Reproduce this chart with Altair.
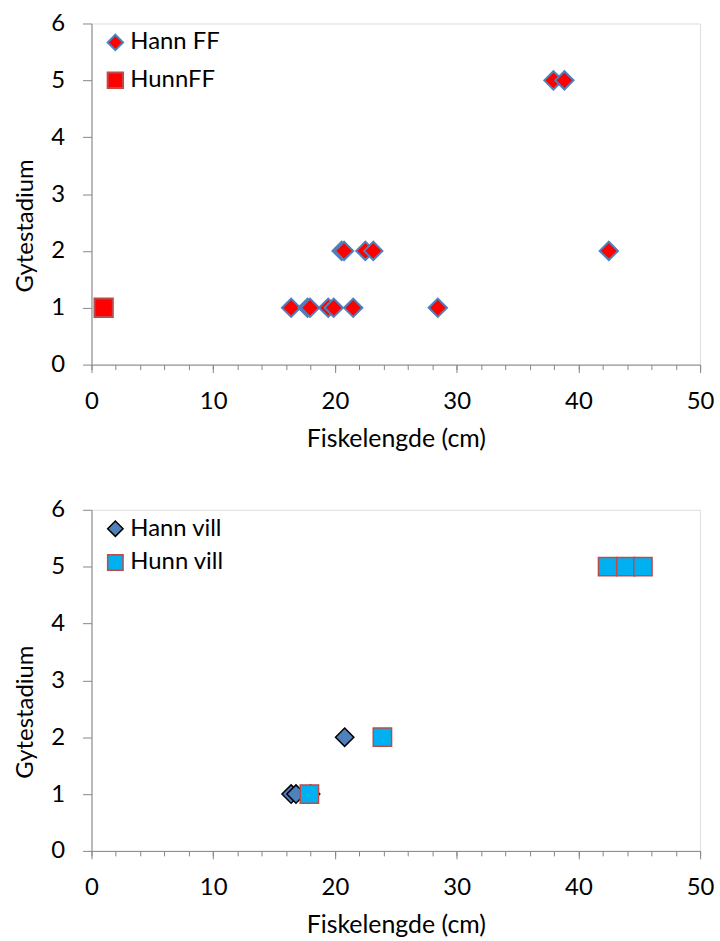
import altair as alt
import pandas as pd

# Farmed fish (FF): fish length (cm) and spawning stage
hann_ff_len = [16.4, 17.75, 17.95, 19.45, 19.9, 21.5, 28.45, 20.55, 20.75, 22.5, 23.15, 42.5, 37.95, 38.85]
hann_ff_stage = [1, 1, 1, 1, 1, 1, 1, 2, 2, 2, 2, 2, 5, 5]
hunn_ff_len = [1.0]
hunn_ff_stage = [1]

# Wild fish (vill)
hann_vill_len = [16.4, 16.8, 18.0, 20.8]
hann_vill_stage = [1, 1, 1, 2]
hunn_vill_len = [17.9, 23.9, 42.4, 43.9, 45.3]
hunn_vill_stage = [1, 2, 5, 5, 5]

x_title = "Fiskelengde (cm)"
y_title = "Gytestadium"
x_major = [0, 10, 20, 30, 40, 50]
x_minor = list(range(0, 51, 2))
y_ticks = [0, 1, 2, 3, 4, 5, 6]

FONT = "Lato"
FS = 24
AXIS_GREY = "#868686"
W, H = 612, 343


def frame(names, lens, stages):
    rows = []
    for name, xs, ys in zip(names, lens, stages):
        for x, y in zip(xs, ys):
            rows.append({"serie": name, "lengde": x, "stadium": y})
    return pd.DataFrame(rows)


def panel(df, names, fills, strokes, stroke_w, legend_row_pad):
    x_scale = alt.Scale(domain=[0, 50], nice=False, zero=False)
    y_scale = alt.Scale(domain=[0, 6], nice=False)

    y_axis = alt.Axis(
        values=y_ticks, title=y_title, grid=False, orient="left",
        domainColor=AXIS_GREY, tickColor=AXIS_GREY, tickSize=9,
        labelPadding=18, labelFontSize=FS, labelFont=FONT, labelColor="black",
        labelBaseline="middle",
        titleFont=FONT, titleFontSize=FS, titleFontWeight="normal", titleColor="black",
        titleAngle=-90, titleBaseline="middle", titleAlign="center",
        titleX=-66, titleY=203,
    )
    x_axis = alt.Axis(
        values=x_major, title=x_title, grid=False, orient="bottom",
        domainColor=AXIS_GREY, tickColor=AXIS_GREY, tickSize=8,
        labelPadding=36, labelBaseline="alphabetic",
        labelFontSize=FS, labelFont=FONT, labelColor="black", labelFlush=False,
        titleFont=FONT, titleFontSize=25, titleFontWeight="normal", titleColor="black",
        titleBaseline="alphabetic", titleY=82, titleX=W / 2,
    )
    minor_axis = alt.Axis(
        values=x_minor, title=None, labels=False, domain=False, grid=False,
        orient="bottom", tickColor=AXIS_GREY, tickSize=5,
    )

    legend = alt.Legend(
        title=None, orient="none", legendX=12, legendY=7,
        labelFont=FONT, labelFontSize=FS, labelColor="black",
        symbolSize=240, symbolStrokeWidth=stroke_w, labelOffset=3,
        rowPadding=legend_row_pad, padding=0,
    )

    points = alt.Chart(df).mark_point(filled=True, size=340, strokeWidth=stroke_w, opacity=1).encode(
        x=alt.X("lengde:Q", scale=x_scale, axis=x_axis),
        y=alt.Y("stadium:Q", scale=y_scale, axis=y_axis),
        shape=alt.Shape("serie:N", scale=alt.Scale(domain=names, range=["diamond", "square"]), legend=legend),
        fill=alt.Fill("serie:N", scale=alt.Scale(domain=names, range=fills), legend=legend),
        stroke=alt.Stroke("serie:N", scale=alt.Scale(domain=names, range=strokes), legend=legend),
        order=alt.Order("idx:Q"),
    ).transform_calculate(idx="datum.serie === '" + names[0] + "' ? 0 : 1")

    minor = alt.Chart(df).mark_point(opacity=0).encode(
        x=alt.X("lengde:Q", scale=x_scale, axis=minor_axis),
    )

    return alt.layer(minor, points).resolve_axis(x="independent").properties(width=W, height=H)


top_names = ["Hann FF", "HunnFF"]
top_df = frame(top_names, [hann_ff_len, hunn_ff_len], [hann_ff_stage, hunn_ff_stage])
bot_names = ["Hann vill", "Hunn vill"]
bot_df = frame(bot_names, [hann_vill_len, hunn_vill_len], [hann_vill_stage, hunn_vill_stage])

top = panel(top_df, top_names, ["#FF0000", "#FF0000"], ["#4F81BD", "#BE4B48"], 2, 14)
bottom = panel(bot_df, bot_names, ["#4F81BD", "#00B0F0"], ["#000000", "#BE4B48"], 1.5, 10)

chart = alt.vconcat(top, bottom, spacing=45).resolve_scale(
    shape="independent", fill="independent", stroke="independent"
).resolve_legend(
    shape="independent", fill="independent", stroke="independent"
).properties(
    padding={"left": 13, "top": 8, "right": 5, "bottom": 5}
).configure_view(stroke=None).configure(background="white")

chart.save("out.html", embed_options={"renderer": "svg", "actions": False})
